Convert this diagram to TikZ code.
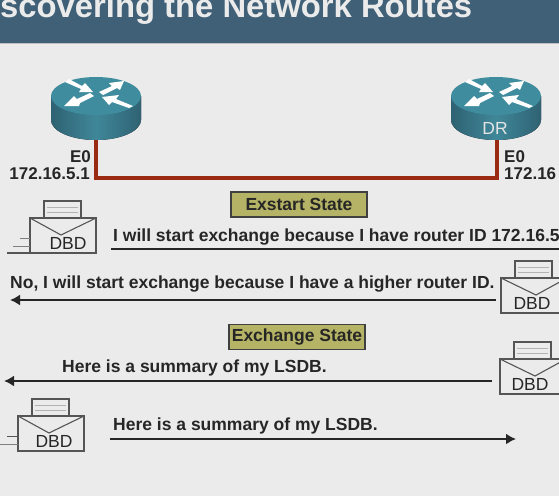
\documentclass[tikz,border=0pt]{standalone}
\usepackage{fontspec}
\usetikzlibrary{arrows.meta}
\setmainfont{Liberation Sans}
\definecolor{bgColour}{HTML}{EBEBEB}
\definecolor{bannerColour}{HTML}{3F6077}
\definecolor{linkColour}{HTML}{9A2A12}
\definecolor{routerTop}{HTML}{3F8C9E}
\definecolor{routerEdge}{HTML}{2F6272}
\definecolor{routerMid}{HTML}{3F8799}
\definecolor{stateColour}{HTML}{B5B365}
\definecolor{paperLine}{HTML}{555555}
\tikzset{
    msgText/.style={font=\bfseries\fontsize{17.5}{19}\selectfont, text=black!85, inner sep=0pt},
    ifText/.style={font=\bfseries\fontsize{17}{19}\selectfont, text=black!85, inner sep=0pt, align=right},
    stateBox/.style={draw=black!75, line width=1.2pt, fill=stateColour, minimum height=25, inner sep=2pt, font=\bfseries\fontsize{17.5}{19}\selectfont, text=black!85},
    msgArrow/.style={line width=1.9pt, draw=black!85, -{Latex[length=10pt,width=11pt]}},
    msgLine/.style={line width=1.9pt, draw=black!85},
    routerArrow/.style={fill=white, draw=none},
    pics/dbd/.style 2 args={code={
        % origin is the envelope top left, #1 is the label centre and #2 the flap tip
        \draw[paperLine, line width=1.1pt, fill=bgColour] (14,0) rectangle (51,-17);
        \draw[gray!60, line width=0.8pt] (17,-11) -- (48,-11) (17,-6) -- (48,-6);
        \draw[paperLine, line width=1.1pt, fill=bgColour] (0,0) rectangle (66,35);
        \draw[paperLine, line width=1.1pt] (0,0) -- (#2,17) -- (66,0);
        \node[font=\fontsize{17.5}{19}\selectfont, text=black!85, inner sep=0pt] (-label) at (#1,25.5) {DBD};
    }},
    pics/router/.style={code={
        % origin is the centre of the top ellipse
        \fill[left color=routerEdge, right color=routerEdge, middle color=routerMid] (-45,0) -- (-45,24) arc[start angle=180, end angle=0, x radius=45, y radius=20] -- (45,0) -- cycle;
        \fill[routerTop] (0,0) ellipse[x radius=45, y radius=19];
        % the four arrows on the lid
        \fill[routerArrow] (-31,-14) -- (-27,-17) -- (-14,-10) -- (-11,-13) -- (-3,-4) -- (-17,-4) -- (-15,-7) -- cycle;
        \fill[routerArrow] (3,-4) -- (16,-10) -- (13,-13) -- (28,-15) -- (24,-6) -- (21,-8) -- (7,-1) -- cycle;
        \fill[routerArrow] (-6,-3) -- (-19,3) -- (-22,0) -- (-32,10) -- (-17,10) -- (-16,7) -- (-2,0) -- cycle;
        \fill[routerArrow] (6,1) -- (23,-1) -- (20,3) -- (37,10) -- (33,12) -- (16,6) -- (13,9) -- cycle;
    }},
}
\begin{document}
\begin{tikzpicture}[x=1pt, y=-1pt]
    \useasboundingbox (0,0) rectangle (559,496);
    \fill[bgColour] (0,0) rectangle (559,496);

    % Title banner
    \fill[bannerColour] (0,0) rectangle (559,43);
    \draw[gray!50!white, line width=0.8pt] (0,43.5) -- (559,43.5);
    \node[anchor=base west, inner sep=0pt, text=white!92!black, font=\bfseries\fontsize{32.8}{35}\selectfont] (title) at (0,17) {scovering the Network Routes};

    % Routers and the link between them
    \coordinate (routerLeft) at (96,96);
    \coordinate (routerRight) at (496,96);
    \coordinate (linkLeft) at (96,178);
    \coordinate (linkRight) at (497,178);
    \draw[linkColour, line width=3.4pt, line join=miter] (96,130) -- (linkLeft) -- (linkRight) -- (497,130);
    \pic at (routerLeft) {router};
    \pic at (routerRight) {router};
    \node[text=white!90!black, inner sep=0pt, font=\fontsize{17.5}{19}\selectfont] (labelDR) at (495,128) {DR};

    % Interface labels
    \node[ifText, anchor=east] (ifLeftName) at (91,157) {E0};
    \node[ifText, anchor=east] (ifLeftAddr) at (90,174) {172.16.5.1};
    \node[ifText, anchor=west] (ifRightName) at (504,157) {E0};
    \node[ifText, anchor=west] (ifRightAddr) at (504,174) {172.16};

    % State boxes
    \node[stateBox, minimum width=136] (stateExstart) at (299,204.5) {Exstart State};
    \node[stateBox, minimum width=136] (stateExchange) at (297,337) {Exchange State};

    % Envelopes
    \pic (dbdOne) at (30,218) {dbd={38}{31}};
    \pic (dbdTwo) at (501,278) {dbd={31}{35}};
    \pic (dbdThree) at (500,359) {dbd={30}{35}};
    \pic (dbdFour) at (18,416) {dbd={36}{31}};

    % Speed lines behind the left envelopes
    \draw[paperLine, line width=1.1pt] (7,253) -- (30,253);
    \draw[gray, line width=0.9pt] (13,246) -- (30,246) (20,238) -- (30,238);
    \draw[gray, line width=0.9pt] (0,444) -- (18,444);
    \draw[paperLine, line width=0.9pt] (7,436) -- (18,436);

    % Messages
    \node[msgText, anchor=base west] (msgOne) at (113,241) {I will start exchange because I have router ID 172.16.5};
    \coordinate (msgOneStart) at (111,249);
    \coordinate (msgOneEnd) at (559,249);
    \draw[msgLine] (msgOneStart) -- (msgOneEnd);

    \node[msgText, anchor=base west] (msgTwo) at (10,288.5) {No, I will start exchange because I have a higher router ID.};
    \coordinate (msgTwoStart) at (496,300);
    \coordinate (msgTwoEnd) at (10,300);
    \draw[msgArrow] (msgTwoStart) -- (msgTwoEnd);

    \node[msgText, anchor=base west] (msgThree) at (62,372) {Here is a summary of my LSDB.};
    \coordinate (msgThreeStart) at (492,381);
    \coordinate (msgThreeEnd) at (4,381);
    \draw[msgArrow] (msgThreeStart) -- (msgThreeEnd);

    \node[msgText, anchor=base west] (msgFour) at (113,430) {Here is a summary of my LSDB.};
    \coordinate (msgFourStart) at (110,439);
    \coordinate (msgFourEnd) at (516,439);
    \draw[msgArrow] (msgFourStart) -- (msgFourEnd);

\end{tikzpicture}
\end{document}
